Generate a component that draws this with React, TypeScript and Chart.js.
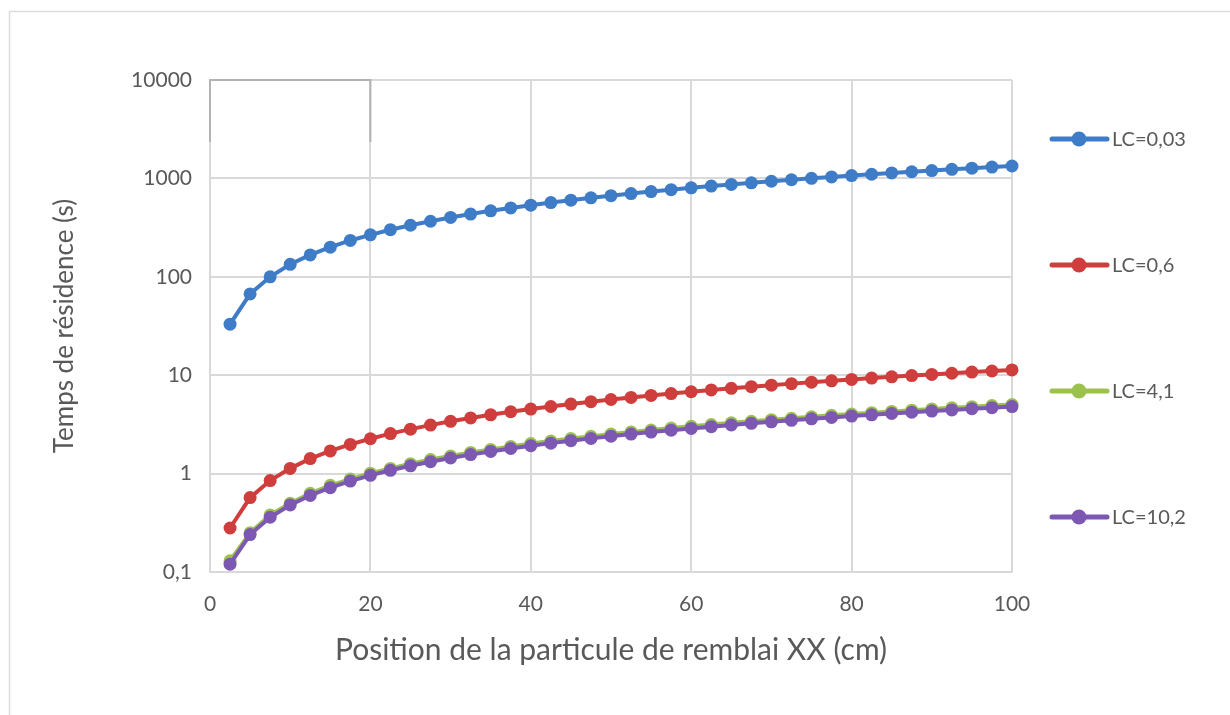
import React, { useEffect, useRef } from 'react';
import { Chart, registerables } from 'chart.js';

Chart.register(...registerables);

const xPositions = [
  2.5, 5, 7.5, 10, 12.5, 15, 17.5, 20, 22.5, 25, 27.5, 30, 32.5, 35, 37.5, 40, 42.5, 45, 47.5, 50,
  52.5, 55, 57.5, 60, 62.5, 65, 67.5, 70, 72.5, 75, 77.5, 80, 82.5, 85, 87.5, 90, 92.5, 95, 97.5, 100,
];

const lc003 = [
  33, 67, 100, 134, 167, 200, 234, 267, 301, 334, 367, 401, 434, 468, 501, 534, 568, 601, 635, 668,
  701, 735, 768, 802, 835, 868, 902, 935, 969, 1002, 1035, 1069, 1102, 1136, 1169, 1202, 1236, 1269, 1303, 1336,
];

const lc06 = [
  0.28, 0.57, 0.85, 1.13, 1.42, 1.7, 1.98, 2.26, 2.55, 2.83, 3.11, 3.4, 3.68, 3.96, 4.25, 4.53, 4.81, 5.09, 5.38, 5.66,
  5.94, 6.23, 6.51, 6.79, 7.08, 7.36, 7.64, 7.92, 8.21, 8.49, 8.77, 9.06, 9.34, 9.62, 9.91, 10.19, 10.47, 10.75, 11.04, 11.32,
];

const lc41 = [
  0.13, 0.25, 0.38, 0.5, 0.63, 0.76, 0.88, 1.01, 1.13, 1.26, 1.39, 1.51, 1.64, 1.76, 1.89, 2.02, 2.14, 2.27, 2.39, 2.52,
  2.65, 2.77, 2.9, 3.02, 3.15, 3.28, 3.4, 3.53, 3.65, 3.78, 3.91, 4.03, 4.16, 4.28, 4.41, 4.54, 4.66, 4.79, 4.91, 5.04,
];

const lc102 = [
  0.12, 0.24, 0.36, 0.48, 0.6, 0.72, 0.84, 0.96, 1.08, 1.2, 1.32, 1.44, 1.56, 1.68, 1.8, 1.92, 2.04, 2.16, 2.28, 2.4,
  2.52, 2.64, 2.76, 2.88, 3.0, 3.12, 3.24, 3.36, 3.48, 3.6, 3.72, 3.84, 3.96, 4.08, 4.2, 4.32, 4.44, 4.56, 4.68, 4.8,
];

const seriesLabels = ['LC=0,03', 'LC=0,6', 'LC=4,1', 'LC=10,2'];
const seriesValues = [lc003, lc06, lc41, lc102];
const seriesColors = ['#3F7CC8', '#CF3E3C', '#9CC24E', '#7C58B3'];
const seriesOrder = [3, 2, 1, 0];

const yTickValues = [0.1, 1, 10, 100, 1000, 10000];
const yTickLabels = ['0,1', '1', '10', '100', '1000', '10000'];
const xTickValues = [0, 20, 40, 60, 80, 100];

const xTitle = 'Position de la particule de remblai XX (cm)';
const yTitle = 'Temps de résidence (s)';

const FONT = 'Lato, "Open Sans", sans-serif';
const TEXT = '#595959';
const GRID = '#D9D9D9';

const framePlugin = {
  id: 'frame',
  beforeDraw(chart: any) {
    const { ctx } = chart;
    ctx.save();
    ctx.fillStyle = '#ffffff';
    ctx.fillRect(0, 0, chart.width, chart.height);
    ctx.strokeStyle = '#DCDCDC';
    ctx.lineWidth = 1.5;
    ctx.strokeRect(9.5, 11.5, chart.width + 50, chart.height + 50);
    ctx.restore();
  },
  beforeDatasetsDraw(chart: any) {
    const { ctx } = chart;
    const xs = chart.scales.x;
    const ys = chart.scales.y;
    const x0 = xs.getPixelForValue(0);
    const x1 = xs.getPixelForValue(20);
    const yTop = ys.getPixelForValue(10000);
    const yBot = ys.getPixelForValue(2350);
    ctx.save();
    ctx.strokeStyle = '#B3B3B3';
    ctx.lineWidth = 2;
    ctx.beginPath();
    ctx.moveTo(x0, yBot);
    ctx.lineTo(x0, yTop);
    ctx.lineTo(x1, yTop);
    ctx.lineTo(x1, yBot);
    ctx.stroke();
    ctx.restore();
  },
};

const legendPlugin = {
  id: 'sideLegend',
  afterDraw(chart: any) {
    const { ctx, chartArea } = chart;
    const cy = (chartArea.top + chartArea.bottom) / 2 + 2;
    const spacing = 126;
    ctx.save();
    seriesLabels.forEach((label, i) => {
      const y = cy + (i - 1.5) * spacing;
      const x0 = chartArea.right + 40;
      ctx.strokeStyle = seriesColors[i];
      ctx.lineWidth = 5;
      ctx.lineCap = 'round';
      ctx.beginPath();
      ctx.moveTo(x0, y);
      ctx.lineTo(x0 + 55, y);
      ctx.stroke();
      ctx.fillStyle = seriesColors[i];
      ctx.beginPath();
      ctx.arc(x0 + 27, y, 7.5, 0, Math.PI * 2);
      ctx.fill();
      ctx.fillStyle = TEXT;
      ctx.font = `20px ${FONT}`;
      ctx.textAlign = 'left';
      ctx.textBaseline = 'middle';
      ctx.fillText(label, x0 + 60, y + 1);
    });
    ctx.restore();
  },
};

export default function App() {
  const canvasRef = useRef<HTMLCanvasElement | null>(null);

  useEffect(() => {
    const canvas = canvasRef.current;
    if (!canvas) return;
    const datasets = seriesLabels.map((label, i) => ({
      label,
      data: xPositions.map((x, j) => ({ x, y: seriesValues[i][j] })),
      borderColor: seriesColors[i],
      backgroundColor: seriesColors[i],
      pointBackgroundColor: seriesColors[i],
      pointBorderColor: seriesColors[i],
      pointBorderWidth: 0,
      pointRadius: 6.5,
      borderWidth: 4,
      tension: 0,
      clip: false as any,
      order: seriesOrder[i],
    }));

    const chart = new Chart(canvas, {
      type: 'line',
      data: { datasets },
      plugins: [framePlugin, legendPlugin],
      options: {
        responsive: false,
        animation: false,
        maintainAspectRatio: false,
        layout: { padding: { left: 0, top: 80, right: 218, bottom: 0 } },
        plugins: {
          legend: { display: false },
          tooltip: { enabled: false },
        },
        scales: {
          x: {
            type: 'linear',
            min: 0,
            max: 100,
            afterBuildTicks: (scale: any) => {
              scale.ticks = xTickValues.map((v) => ({ value: v }));
            },
            afterFit: (scale: any) => {
              scale.height = 715 - 572;
            },
            ticks: {
              color: TEXT,
              font: { family: FONT, size: 21 },
              padding: 20,
              callback: (v: any) => String(v),
            },
            grid: { color: GRID, lineWidth: 2, drawTicks: false },
            border: { color: GRID, width: 2 },
            title: {
              display: true,
              text: xTitle,
              color: TEXT,
              font: { family: FONT, size: 30 },
              padding: { top: 0, bottom: 47 },
            },
          },
          y: {
            type: 'logarithmic',
            min: 0.1,
            max: 10000,
            afterBuildTicks: (scale: any) => {
              scale.ticks = yTickValues.map((v) => ({ value: v }));
            },
            afterFit: (scale: any) => {
              scale.width = 210;
            },
            ticks: {
              color: TEXT,
              font: { family: FONT, size: 21 },
              padding: 18,
              callback: (v: any) => {
                const idx = yTickValues.indexOf(Number(v));
                return idx >= 0 ? yTickLabels[idx] : '';
              },
            },
            grid: { color: GRID, lineWidth: 2, drawTicks: false },
            border: { color: GRID, width: 2 },
            title: {
              display: true,
              text: yTitle,
              color: TEXT,
              font: { family: FONT, size: 26 },
              padding: { top: 49, bottom: 0 },
            },
          },
        },
      },
    });
    return () => chart.destroy();
  }, []);

  return (
    <div style={{ position: 'fixed', left: 0, top: 0, width: 1230, height: 715, background: '#fff' }}>
      <canvas ref={canvasRef} width={1230} height={715} style={{ display: 'block', width: 1230, height: 715 }} />
    </div>
  );
}
